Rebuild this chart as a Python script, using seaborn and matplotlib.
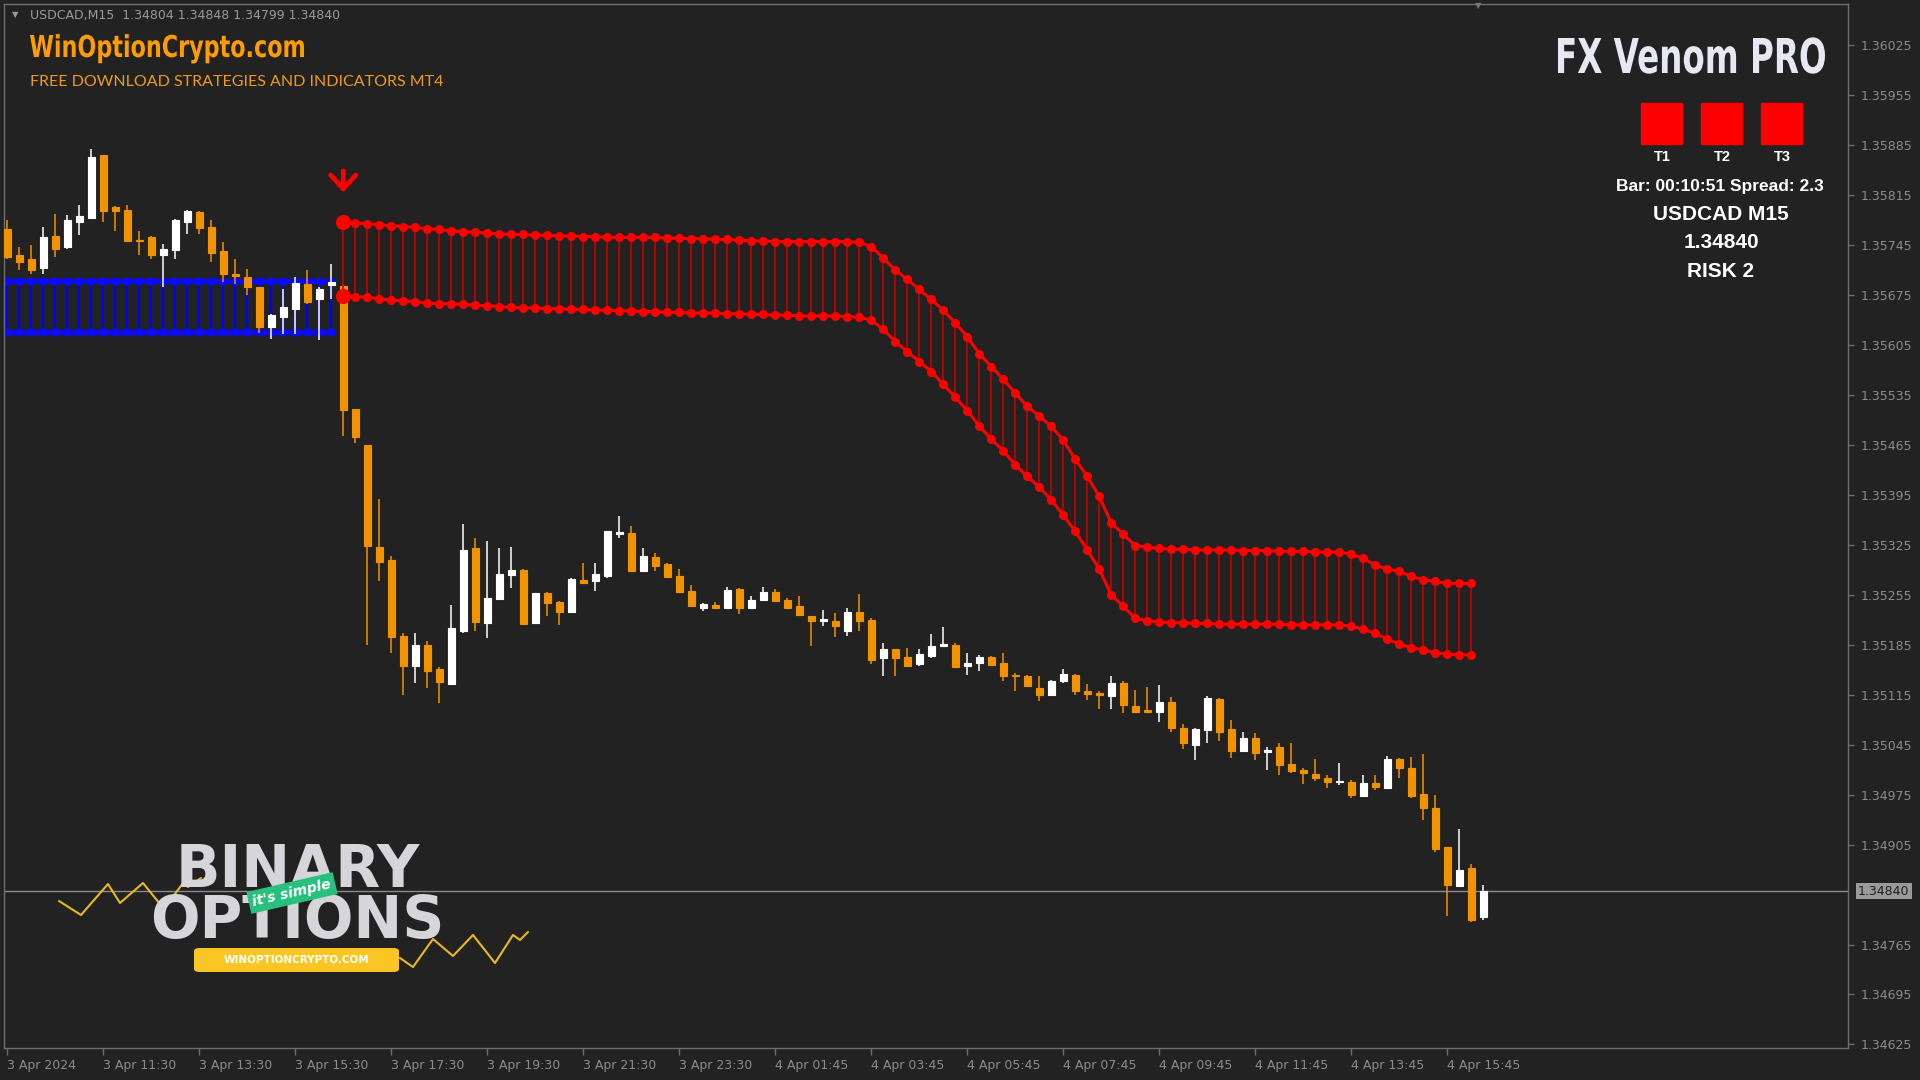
import numpy as np
import seaborn as sns
import matplotlib.pyplot as plt
import matplotlib.transforms as mtransforms
from matplotlib.patches import Rectangle, FancyBboxPatch, PathPatch
from matplotlib.lines import Line2D
from matplotlib.textpath import TextPath
from matplotlib.font_manager import FontProperties

# USDCAD M15 candles (index 0 = 3 Apr 09:30)
opens = [
    1.35768, 1.35731, 1.35725, 1.35713, 1.35758, 1.35742, 1.35778, 1.35783, 1.35872, 1.35798,
    1.35794, 1.35752, 1.35757, 1.35731, 1.35738, 1.35778, 1.35792, 1.35771, 1.35737, 1.35705,
    1.35701, 1.35687, 1.35630, 1.35644, 1.35656, 1.35690, 1.35669, 1.35689, 1.35688, 1.35515,
    1.35465, 1.35322, 1.35304, 1.35198, 1.35155, 1.35185, 1.35151, 1.35130, 1.35204, 1.35320,
    1.35215, 1.35249, 1.35283, 1.35290, 1.35215, 1.35257, 1.35245, 1.35231, 1.35276, 1.35274,
    1.35281, 1.35340, 1.35341, 1.35288, 1.35308, 1.35298, 1.35282, 1.35260, 1.35237, 1.35241,
    1.35237, 1.35263, 1.35237, 1.35248, 1.35259, 1.35248, 1.35239, 1.35225, 1.35218, 1.35219,
    1.35204, 1.35231, 1.35220, 1.35166, 1.35179, 1.35168, 1.35158, 1.35169, 1.35184, 1.35185,
    1.35156, 1.35159, 1.35168, 1.35159, 1.35143, 1.35141, 1.35125, 1.35115, 1.35134, 1.35143,
    1.35120, 1.35117, 1.35113, 1.35132, 1.35099, 1.35094, 1.35091, 1.35105, 1.35068, 1.35045,
    1.35066, 1.35109, 1.35067, 1.35036, 1.35054, 1.35035, 1.35042, 1.35018, 1.35010, 1.35004,
    1.34999, 1.34993, 1.34993, 1.34973, 1.34991, 1.34984, 1.35025, 1.35012, 1.34976, 1.34956,
    1.34901, 1.34847, 1.34872, 1.34804,
]
highs = [
    1.35781, 1.35743, 1.35745, 1.35771, 1.35789, 1.35787, 1.35802, 1.35880, 1.35872, 1.35800,
    1.35802, 1.35765, 1.35758, 1.35746, 1.35782, 1.35795, 1.35793, 1.35780, 1.35750, 1.35726,
    1.35711, 1.35687, 1.35649, 1.35684, 1.35701, 1.35710, 1.35687, 1.35718, 1.35691, 1.35515,
    1.35465, 1.35389, 1.35309, 1.35201, 1.35201, 1.35191, 1.35154, 1.35241, 1.35354, 1.35335,
    1.35330, 1.35320, 1.35322, 1.35291, 1.35258, 1.35259, 1.35246, 1.35279, 1.35299, 1.35300,
    1.35345, 1.35365, 1.35351, 1.35321, 1.35314, 1.35299, 1.35291, 1.35269, 1.35243, 1.35245,
    1.35266, 1.35265, 1.35253, 1.35266, 1.35263, 1.35250, 1.35253, 1.35226, 1.35234, 1.35230,
    1.35236, 1.35256, 1.35222, 1.35187, 1.35179, 1.35180, 1.35179, 1.35200, 1.35210, 1.35187,
    1.35174, 1.35171, 1.35169, 1.35174, 1.35145, 1.35143, 1.35141, 1.35135, 1.35151, 1.35144,
    1.35130, 1.35120, 1.35141, 1.35134, 1.35122, 1.35126, 1.35128, 1.35112, 1.35074, 1.35068,
    1.35113, 1.35111, 1.35080, 1.35063, 1.35061, 1.35042, 1.35047, 1.35047, 1.35012, 1.35025,
    1.35003, 1.35019, 1.34996, 1.35003, 1.35003, 1.35029, 1.35026, 1.35028, 1.35032, 1.34975,
    1.34902, 1.34927, 1.34878, 1.34848,
]
lows = [
    1.35726, 1.35710, 1.35705, 1.35704, 1.35729, 1.35740, 1.35759, 1.35782, 1.35778, 1.35765,
    1.35751, 1.35731, 1.35725, 1.35686, 1.35725, 1.35761, 1.35761, 1.35722, 1.35693, 1.35690,
    1.35675, 1.35622, 1.35614, 1.35621, 1.35620, 1.35663, 1.35612, 1.35670, 1.35477, 1.35468,
    1.35185, 1.35274, 1.35174, 1.35115, 1.35132, 1.35124, 1.35104, 1.35128, 1.35201, 1.35204,
    1.35194, 1.35248, 1.35265, 1.35213, 1.35214, 1.35225, 1.35213, 1.35229, 1.35270, 1.35261,
    1.35279, 1.35335, 1.35288, 1.35287, 1.35289, 1.35279, 1.35258, 1.35238, 1.35233, 1.35235,
    1.35235, 1.35228, 1.35236, 1.35247, 1.35246, 1.35235, 1.35226, 1.35183, 1.35211, 1.35196,
    1.35198, 1.35205, 1.35158, 1.35141, 1.35141, 1.35154, 1.35156, 1.35166, 1.35184, 1.35152,
    1.35143, 1.35148, 1.35155, 1.35134, 1.35120, 1.35126, 1.35106, 1.35113, 1.35132, 1.35115,
    1.35108, 1.35095, 1.35095, 1.35089, 1.35090, 1.35091, 1.35077, 1.35063, 1.35039, 1.35024,
    1.35047, 1.35050, 1.35026, 1.35035, 1.35024, 1.35009, 1.35003, 1.35005, 1.34990, 1.34994,
    1.34984, 1.34988, 1.34971, 1.34972, 1.34981, 1.34983, 1.34998, 1.34971, 1.34940, 1.34895,
    1.34805, 1.34846, 1.34796, 1.34799,
]
closes = [
    1.35729, 1.35722, 1.35710, 1.35756, 1.35740, 1.35780, 1.35786, 1.35868, 1.35793, 1.35793,
    1.35751, 1.35751, 1.35731, 1.35739, 1.35781, 1.35793, 1.35769, 1.35734, 1.35704, 1.35702,
    1.35687, 1.35630, 1.35647, 1.35659, 1.35692, 1.35666, 1.35684, 1.35693, 1.35514, 1.35476,
    1.35323, 1.35301, 1.35196, 1.35155, 1.35185, 1.35149, 1.35133, 1.35208, 1.35318, 1.35217,
    1.35251, 1.35284, 1.35290, 1.35214, 1.35257, 1.35243, 1.35231, 1.35277, 1.35271, 1.35284,
    1.35344, 1.35343, 1.35289, 1.35310, 1.35296, 1.35280, 1.35259, 1.35239, 1.35242, 1.35236,
    1.35262, 1.35237, 1.35248, 1.35259, 1.35247, 1.35237, 1.35227, 1.35219, 1.35221, 1.35212,
    1.35231, 1.35218, 1.35164, 1.35179, 1.35166, 1.35155, 1.35172, 1.35184, 1.35186, 1.35154,
    1.35159, 1.35168, 1.35157, 1.35141, 1.35141, 1.35127, 1.35114, 1.35134, 1.35144, 1.35120,
    1.35116, 1.35115, 1.35132, 1.35100, 1.35091, 1.35091, 1.35105, 1.35068, 1.35047, 1.35067,
    1.35110, 1.35063, 1.35036, 1.35054, 1.35034, 1.35038, 1.35016, 1.35008, 1.35005, 1.34998,
    1.34993, 1.34994, 1.34975, 1.34992, 1.34986, 1.35025, 1.35012, 1.34973, 1.34956, 1.34899,
    1.34849, 1.34870, 1.34799, 1.34840,
]

# blue band (candles 0-27)
blue_upper = [1.35695, 1.35695, 1.35695, 1.35695, 1.35695, 1.35695, 1.35695, 1.35695, 1.35695, 1.35695,
              1.35695, 1.35695, 1.35695, 1.35695, 1.35695, 1.35695, 1.35695, 1.35695, 1.35695, 1.35695,
              1.35695, 1.35695, 1.35695, 1.35695, 1.35695, 1.35695, 1.35695, 1.35695]
blue_lower = [1.35623, 1.35623, 1.35623, 1.35623, 1.35623, 1.35623, 1.35623, 1.35623, 1.35623, 1.35623,
              1.35623, 1.35623, 1.35623, 1.35623, 1.35623, 1.35623, 1.35623, 1.35623, 1.35623, 1.35623,
              1.35623, 1.35623, 1.35623, 1.35623, 1.35623, 1.35623, 1.35623, 1.35623]

# red band, starts at the sell signal candle
red_start = 28
red_upper = [
    1.35778, 1.35776, 1.35775, 1.35774, 1.35772, 1.35771, 1.35770, 1.35768, 1.35767, 1.35765,
    1.35764, 1.35763, 1.35762, 1.35761, 1.35760, 1.35760, 1.35759, 1.35759, 1.35758, 1.35758,
    1.35757, 1.35757, 1.35756, 1.35756, 1.35756, 1.35756, 1.35756, 1.35755, 1.35755, 1.35754,
    1.35754, 1.35753, 1.35753, 1.35752, 1.35751, 1.35751, 1.35750, 1.35750, 1.35750, 1.35750,
    1.35750, 1.35750, 1.35750, 1.35749, 1.35743, 1.35727, 1.35710, 1.35697, 1.35683, 1.35669,
    1.35654, 1.35636, 1.35617, 1.35593, 1.35575, 1.35557, 1.35538, 1.35519, 1.35506, 1.35491,
    1.35472, 1.35445, 1.35421, 1.35393, 1.35356, 1.35340, 1.35324, 1.35322, 1.35320, 1.35319,
    1.35319, 1.35318, 1.35318, 1.35318, 1.35318, 1.35317, 1.35317, 1.35317, 1.35316, 1.35316,
    1.35316, 1.35315, 1.35315, 1.35315, 1.35312, 1.35306, 1.35297, 1.35291, 1.35288, 1.35281,
    1.35276, 1.35274, 1.35271, 1.35271, 1.35271,
]
red_lower = [
    1.35674, 1.35673, 1.35672, 1.35670, 1.35668, 1.35667, 1.35666, 1.35664, 1.35663, 1.35663,
    1.35662, 1.35661, 1.35660, 1.35659, 1.35658, 1.35657, 1.35657, 1.35656, 1.35656, 1.35655,
    1.35655, 1.35654, 1.35654, 1.35653, 1.35653, 1.35652, 1.35652, 1.35651, 1.35651, 1.35650,
    1.35650, 1.35650, 1.35649, 1.35649, 1.35648, 1.35648, 1.35647, 1.35647, 1.35646, 1.35646,
    1.35646, 1.35646, 1.35645, 1.35644, 1.35640, 1.35627, 1.35610, 1.35596, 1.35582, 1.35568,
    1.35550, 1.35532, 1.35513, 1.35492, 1.35473, 1.35457, 1.35437, 1.35421, 1.35406, 1.35388,
    1.35367, 1.35344, 1.35318, 1.35291, 1.35255, 1.35239, 1.35222, 1.35219, 1.35217, 1.35216,
    1.35216, 1.35215, 1.35215, 1.35214, 1.35214, 1.35214, 1.35214, 1.35214, 1.35214, 1.35213,
    1.35213, 1.35213, 1.35213, 1.35213, 1.35211, 1.35207, 1.35201, 1.35193, 1.35186, 1.35181,
    1.35178, 1.35174, 1.35172, 1.35171, 1.35171,
]

price_ticks = [1.36025, 1.35955, 1.35885, 1.35815, 1.35745, 1.35675, 1.35605, 1.35535, 1.35465,
               1.35395, 1.35325, 1.35255, 1.35185, 1.35115, 1.35045, 1.34975, 1.34905, 1.34765,
               1.34695, 1.34625]
time_tick_pos = [0, 8, 16, 24, 32, 40, 48, 56, 64, 72, 80, 88, 96, 104, 112, 120]
time_labels = ['3 Apr 2024', '3 Apr 11:30', '3 Apr 13:30', '3 Apr 15:30', '3 Apr 17:30',
               '3 Apr 19:30', '3 Apr 21:30', '3 Apr 23:30', '4 Apr 01:45', '4 Apr 03:45',
               '4 Apr 05:45', '4 Apr 07:45', '4 Apr 09:45', '4 Apr 11:45', '4 Apr 13:45',
               '4 Apr 15:45']
last_price = 1.34840

bg = '#222222'
grey = '#8c8c8c'
orange = '#f39200'
sns.set_theme(style='dark', rc={'axes.facecolor': bg, 'figure.facecolor': bg,
                                'axes.edgecolor': '#6e6e6e', 'axes.linewidth': 1.0})
plt.rcParams['font.family'] = ['DejaVu Sans']

W, H = 1920, 1080
def fx(x):
    return x / W
def fy(y):
    return 1 - y / H

fig = plt.figure(figsize=(19.2, 10.8), dpi=100)
ax = fig.add_axes([fx(4), 32 / H, 1844 / W, 1044 / H])


def narrow_text(s, x_left, y_base, cap_h, width, color):
    # bold text squeezed to a given width (no condensed font installed)
    tp = TextPath((0, 0), s, size=100, prop=FontProperties(family='DejaVu Sans', weight='bold'))
    ext = tp.get_extents()
    sx = width / ext.width
    sy = cap_h / 72.9
    tr = mtransforms.Affine2D().scale(sx, sy).translate(x_left - ext.x0 * sx, H - y_base)
    fig.add_artist(PathPatch(tp, transform=tr, fc=color, ec='none'))


# blue band
bx = np.arange(len(blue_upper))
ax.vlines(bx, blue_lower, blue_upper, color='#0000ff', lw=1.6, zorder=2)
sns.lineplot(x=bx, y=blue_upper, color='#0a0aff', lw=3.5, marker='o', markersize=6,
             markeredgewidth=0, ax=ax, zorder=2)
sns.lineplot(x=bx, y=blue_lower, color='#0a0aff', lw=3.5, marker='o', markersize=6,
             markeredgewidth=0, ax=ax, zorder=2)

# candles
o = np.array(opens)
h = np.array(highs)
l = np.array(lows)
c = np.array(closes)
x = np.arange(len(o))
cols = np.where(c >= o, '#ffffff', orange)
ax.vlines(x, l, h, colors=cols, lw=1.1, zorder=3)
ax.bar(x, c - o, bottom=o, width=0.58, color=cols, edgecolor=cols, linewidth=0.8, zorder=3)

# red band
rx = red_start + np.arange(len(red_upper))
ax.vlines(rx, red_lower, red_upper, color='#c80000', lw=1.2, zorder=4)
sns.lineplot(x=rx, y=red_upper, color='#ff0000', lw=2.2, marker='o', markersize=6.5,
             markeredgewidth=0, ax=ax, zorder=5)
sns.lineplot(x=rx, y=red_lower, color='#ff0000', lw=2.2, marker='o', markersize=6.5,
             markeredgewidth=0, ax=ax, zorder=5)
ax.scatter([rx[0], rx[0]], [red_upper[0], red_lower[0]], s=120, color='#ff0000', zorder=6, linewidths=0)
ax.annotate('', xy=(red_start, 1.35815), xytext=(red_start, 1.35853),
            arrowprops=dict(arrowstyle='->,head_length=0.55,head_width=0.5', color='#ff0000',
                            lw=3.5, mutation_scale=18), zorder=6)

ax.axhline(last_price, color='#8a8a8a', lw=1, zorder=1)

ax.set_xlim(-0.275, 153.4)
ax.set_ylim(1.34620, 1.36083)
ax.set_xlabel('')
ax.set_ylabel('')
ax.grid(False)

ax.yaxis.tick_right()
ax.set_yticks(price_ticks)
ax.set_yticklabels([f'{v:.5f}' for v in price_ticks])
ax.tick_params(axis='y', colors='#6e6e6e', labelcolor=grey, direction='out', length=4, width=1,
               labelsize=9, pad=5, left=False, right=True, labelleft=False, labelright=True)
ax.set_xticks(time_tick_pos)
ax.set_xticklabels(time_labels, ha='left')
ax.tick_params(axis='x', colors='#6e6e6e', labelcolor=grey, direction='out', length=5, width=1,
               labelsize=9, pad=3, bottom=True)
for s in ax.spines.values():
    s.set_color('#6e6e6e')

trans = mtransforms.blended_transform_factory(ax.transAxes, ax.transData)
ax.text(1.0055, last_price, f'{last_price:.5f}', transform=trans, ha='left', va='center',
        fontsize=9, color='#1e1e1e', clip_on=False,
        bbox=dict(boxstyle='square,pad=0.15', fc='#9a9a9a', ec='none'))

# header
fig.text(fx(15), fy(15), '\u25bc', color='#9a9a9a', fontsize=6, ha='center', va='center')
fig.text(fx(30), fy(15), 'USDCAD,M15  1.34804 1.34848 1.34799 1.34840', color='#9a9a9a',
         fontsize=9, va='center')
narrow_text('WinOptionCrypto.com', 30, 57, 22, 274, '#ff9c00')
fig.text(fx(30), fy(82), 'FREE DOWNLOAD STRATEGIES AND INDICATORS MT4', color='#f09a1a',
         fontsize=11.5, family=['Lato', 'DejaVu Sans'], va='center')
fig.text(fx(1478), fy(6), '\u25bc', color='#777777', fontsize=6, ha='center', va='center')

# info panel
narrow_text('FX Venom PRO', 1558, 73, 35, 267, '#e8e8f2')
for cx, lab in zip([1662, 1722, 1782], ['T1', 'T2', 'T3']):
    fig.add_artist(Rectangle((fx(cx - 21), fy(144)), 41 / W, 41 / H, transform=fig.transFigure,
                             color='#ff0000'))
    fig.text(fx(cx), fy(157), lab, color='white', fontsize=10.5, weight='bold',
             family=['Liberation Sans', 'DejaVu Sans'], ha='center', va='center')
fig.text(fx(1720), fy(186), 'Bar: 00:10:51 Spread: 2.3', color='white', fontsize=12.5, weight='bold',
         family=['Liberation Sans', 'DejaVu Sans'], ha='center', va='center')
for yy, t in zip([214, 243, 271], ['USDCAD M15', '1.34840', 'RISK 2']):
    fig.text(fx(1721), fy(yy), t, color='white', fontsize=15, weight='bold',
             family=['Liberation Sans', 'DejaVu Sans'], ha='center', va='center')

# watermark logo
zig1 = [(59, 901), (81, 915), (108, 884), (120, 903), (143, 883), (164, 909), (183, 883), (188, 887), (201, 878)]
zig2 = [(400, 958), (413, 967), (433, 939), (453, 956), (473, 935), (495, 963), (513, 935), (520, 940), (528, 932)]
for zz in (zig1, zig2):
    fig.add_artist(Line2D([fx(p[0]) for p in zz], [fy(p[1]) for p in zz], transform=fig.transFigure,
                          color='#e8b923', lw=1.5))
fig.text(fx(298), fy(887), 'BINARY', color='#d6d6da', fontsize=42, weight='bold', ha='center', va='baseline')
fig.text(fx(297), fy(938), 'OPTIONS', color='#d6d6da', fontsize=42, weight='bold', ha='center', va='baseline')
fig.text(fx(292), fy(893), "it's simple", rotation=13, fontsize=10, style='italic', weight='bold',
         color='white', ha='center', va='center',
         bbox=dict(boxstyle='square,pad=0.3', fc='#27c07d', ec='none'))
fig.add_artist(FancyBboxPatch((fx(194), fy(972)), 205 / W, 24 / H, boxstyle='round,pad=0,rounding_size=0.003',
                              transform=fig.transFigure, fc='#f9c623', ec='none'))
fig.text(fx(296), fy(960), 'WINOPTIONCRYPTO.COM', color='white', fontsize=7.5, weight='bold',
         ha='center', va='center')

plt.savefig('out.png', dpi=100, facecolor=bg)
